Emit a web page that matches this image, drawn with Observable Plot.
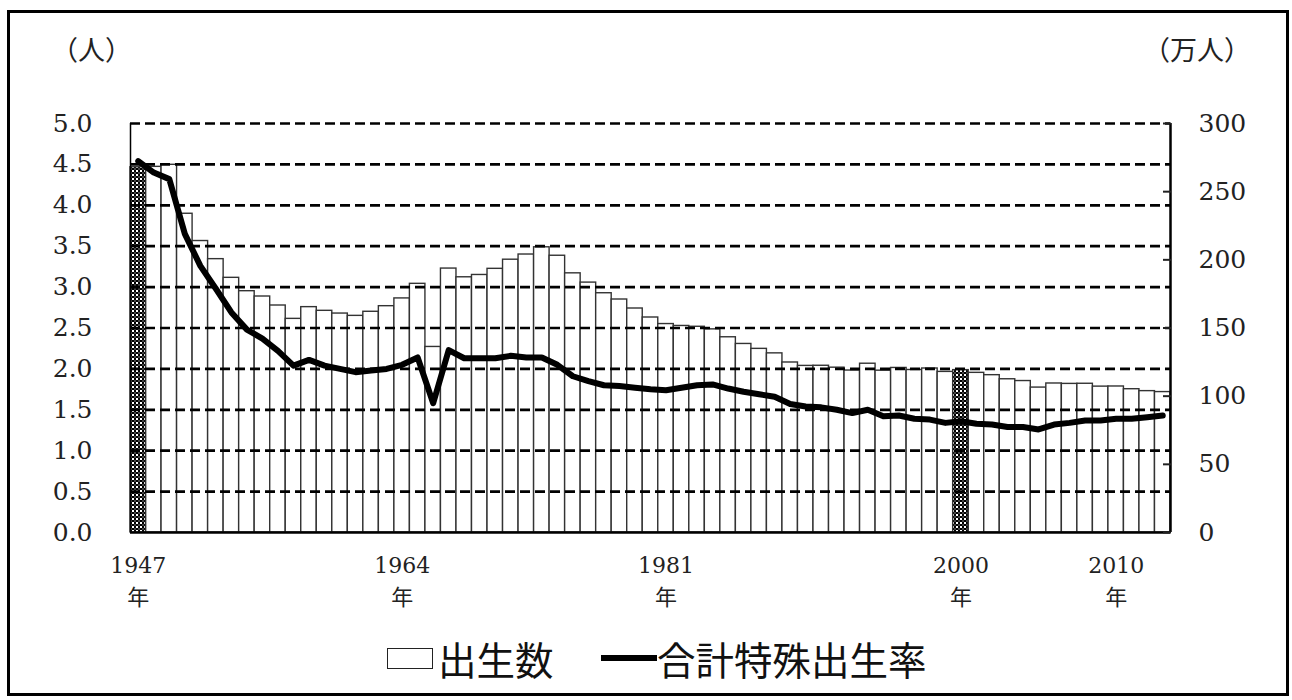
<!DOCTYPE html>
<html><head><meta charset="utf-8">
<script src="https://cdn.jsdelivr.net/npm/d3@7"></script>
<script src="https://cdn.jsdelivr.net/npm/@observablehq/plot@0.6"></script>
<style>
body{margin:0;background:#fff;}
#wrap{position:relative;width:1292px;height:700px;overflow:hidden;background:#fff;}
#border{position:absolute;left:7px;top:10px;width:1276px;height:680px;border:3px solid #000;}
#chart{position:absolute;left:0;top:0;}
.unit{position:absolute;top:29px;font-family:"Noto Sans CJK JP",sans-serif;font-size:27px;color:#222;line-height:40px;}
#legend{position:absolute;left:0;top:632px;width:1292px;height:52px;font-family:"Noto Sans CJK JP",sans-serif;font-size:38.5px;color:#111;}
#legend .box{position:absolute;left:387px;top:16px;width:44px;height:19px;border:1.5px solid #222;background:#fff;}
#legend .ln{position:absolute;left:601px;top:23px;width:56px;height:6px;background:#000;}
#legend .t{position:absolute;top:0;line-height:52px;white-space:nowrap;}
</style>
</head><body>
<div id="wrap">
  <div id="border"></div>
  <div id="chart"></div>
  <div class="unit" style="left:51px">（人）</div>
  <div class="unit" style="left:1143px">（万人）</div>
  <div id="legend">
    <div class="box"></div><div class="t" style="left:438px">出生数</div>
    <div class="ln"></div><div class="t" style="left:657px">合計特殊出生率</div>
  </div>
</div>
<script>
// ---- data ----
const years = d3.range(1947, 2014);
// births, 万人
const births = [267.9,268.2,269.7,233.8,213.8,200.5,186.8,177.0,173.1,166.5,
  156.7,165.3,162.6,160.6,158.9,161.9,166.0,171.7,182.4,136.1,
  193.6,187.2,188.9,193.4,200.1,203.9,209.2,203.0,190.1,183.3,
  175.5,170.9,164.3,157.7,152.9,151.5,150.9,149.0,143.2,138.3,
  134.7,131.4,124.7,122.2,122.3,120.9,118.8,123.8,118.7,120.7,
  119.2,120.3,117.8,119.1,117.1,115.4,112.4,111.1,106.3,109.3,
  109.0,109.1,107.0,107.1,105.1,103.7,103.0];
// total fertility rate
const tfr = [4.54,4.40,4.32,3.65,3.26,2.98,2.69,2.48,2.37,2.22,
  2.04,2.11,2.04,2.00,1.96,1.98,2.00,2.05,2.14,1.58,
  2.23,2.13,2.13,2.13,2.16,2.14,2.14,2.05,1.91,1.85,
  1.80,1.79,1.77,1.75,1.74,1.77,1.80,1.81,1.76,1.72,
  1.69,1.66,1.57,1.54,1.53,1.50,1.46,1.50,1.42,1.43,
  1.39,1.38,1.34,1.36,1.33,1.32,1.29,1.29,1.26,1.32,
  1.34,1.37,1.37,1.39,1.39,1.41,1.43];
const highlightYears = [1947, 2000];
const xTickYears = [1947, 1964, 1981, 2000, 2010];
const leftTicks = [0,0.5,1,1.5,2,2.5,3,3.5,4,4.5,5];
const rightTicks = [0,50,100,150,200,250,300];
const gridValues = [0.5,1,1.5,2,2.5,3,3.5,4,4.5,5];

const ratio = 300 / 5; // right axis max / left axis max
const data = years.map((y, i) => ({year: y, births: births[i], tfr: tfr[i], hl: highlightYears.includes(y)}));
const xDomain = [years[0] - 0.5, years[years.length - 1] + 0.5];
const serif = "'DejaVu Serif', 'Liberation Serif', 'Noto Sans CJK JP', serif";

const plot = Plot.plot({
  width: 1292, height: 700,
  marginLeft: 130, marginRight: 122, marginTop: 123, marginBottom: 168,
  style: {fontFamily: serif, background: "transparent", color: "#222"},
  x: {type: "linear", domain: xDomain},
  y: {domain: [0, 5]},
  marks: [
    Plot.rectY(data.filter(d => !d.hl), {x1: d => d.year - 0.5, x2: d => d.year + 0.5, y1: 0, y2: d => d.births / ratio, fill: "white", stroke: "#333", strokeWidth: 1.4}),
    Plot.rectY(data.filter(d => d.hl), {x1: d => d.year - 0.5, x2: d => d.year + 0.5, y1: 0, y2: d => d.births / ratio, fill: "url(#checker)", stroke: "#333", strokeWidth: 1.4}),
    Plot.ruleY(gridValues, {stroke: "#000", strokeWidth: 2.7, strokeDasharray: "10,5"}),
    Plot.ruleX([xDomain[0]], {y1: 0, y2: 5, stroke: "#000", strokeWidth: 1.5}),
    Plot.ruleX([xDomain[1]], {y1: 0, y2: 5, stroke: "#000", strokeWidth: 2.5}),
    Plot.ruleY([0], {stroke: "#000", strokeWidth: 2.5}),
    Plot.line(data, {x: "year", y: "tfr", stroke: "#000", strokeWidth: 6, strokeLinejoin: "round", strokeLinecap: "round"}),
    Plot.axisY(leftTicks, {anchor: "left", tickSize: 0, tickPadding: 38, tickFormat: d => d.toFixed(1), fontSize: 25, label: null}),
    Plot.axisY(rightTicks.map(v => v / ratio), {anchor: "right", tickSize: 0, tickPadding: 28, textAnchor: "start", tickFormat: v => String(Math.round(v * ratio)), fontSize: 25, label: null}),
    Plot.axisY(rightTicks.map(v => v / ratio), {anchor: "right", tickSize: 8, dx: -8, text: null, strokeWidth: 2, label: null}),
    Plot.axisX(xTickYears, {anchor: "bottom", tickSize: 0, tickPadding: 18, fontSize: 22, lineHeight: 1.45, tickFormat: d => d + "\n年", label: null})
  ]
});

// checker pattern for highlighted bars
const svg = d3.select(plot);
const defs = svg.insert("defs", ":first-child");
const pat = defs.append("pattern").attr("id", "checker").attr("patternUnits", "userSpaceOnUse").attr("width", 4).attr("height", 4);
pat.append("rect").attr("width", 4).attr("height", 4).attr("fill", "#fff");
pat.append("rect").attr("width", 2).attr("height", 2).attr("fill", "#000");
pat.append("rect").attr("x", 2).attr("y", 2).attr("width", 2).attr("height", 2).attr("fill", "#000");
pat.append("rect").attr("x", 2).attr("y", 0).attr("width", 2).attr("height", 2).attr("fill", "#444");

document.getElementById("chart").appendChild(plot);
</script>
</body></html>
